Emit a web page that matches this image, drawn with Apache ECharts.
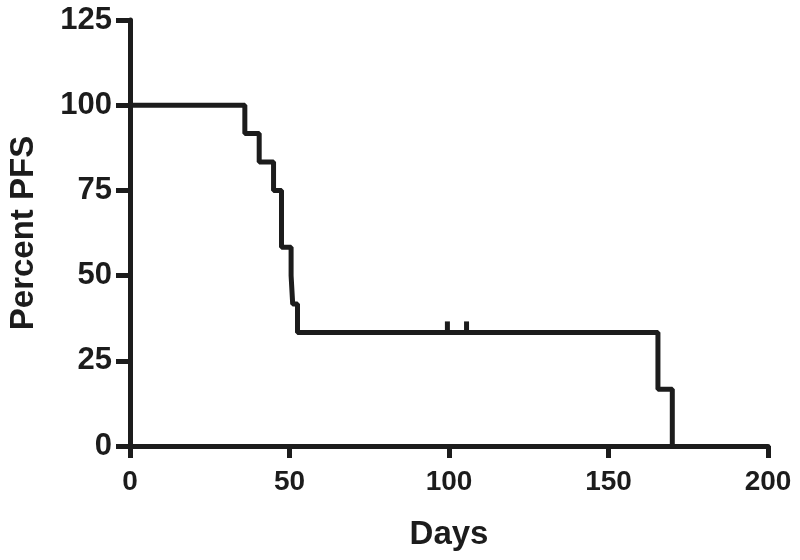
<!DOCTYPE html>
<html>
<head>
<meta charset="utf-8">
<script src="https://cdn.jsdelivr.net/npm/echarts@6/dist/echarts.min.js"></script>
<style>html,body{margin:0;padding:0;background:#fff;}#chart{width:800px;height:560px;}</style>
</head>
<body>
<div id="chart"></div>
<script>
// Kaplan-Meier step data (days, percent PFS)
var days = [0, 36, 40.5, 45, 47.5, 50.5, 51, 52.5, 165.5, 170];
var percentPFS = [100, 91.67, 83.33, 75, 58.33, 50, 41.67, 33.33, 16.67, 0];
// censored observations
var censorDays = [99.5, 105.5];
var censorPFS = [33.33, 33.33];
var xTicks = [0, 50, 100, 150, 200];
var yTicks = [0, 25, 50, 75, 100, 125];

var ink = '#1c1c1c';
var font = 'Liberation Sans, Arial, Helvetica, sans-serif';
var chart = echarts.init(document.getElementById('chart'));
var lineData = days.map(function (d, i) { return [d, percentPFS[i]]; });
var censorData = censorDays.map(function (d, i) { return [d, censorPFS[i]]; });

chart.setOption({
  animation: false,
  backgroundColor: '#ffffff',
  grid: { left: 130, right: 32, top: 20, bottom: 114, containLabel: false, outerBoundsMode: 'none' },
  xAxis: {
    type: 'value', min: xTicks[0], max: xTicks[xTicks.length - 1], interval: 50,
    name: 'Days', nameLocation: 'middle', nameGap: 72,
    nameTextStyle: { fontFamily: font, fontWeight: 'bold', fontSize: 33, color: ink },
    axisLine: { show: true, onZero: false, lineStyle: { color: ink, width: 5 } },
    axisTick: { show: true, inside: false, length: 12, lineStyle: { color: ink, width: 5 } },
    axisLabel: { margin: 22, fontFamily: font, fontWeight: 'bold', fontSize: 28, color: ink },
    splitLine: { show: false }
  },
  yAxis: {
    type: 'value', min: yTicks[0], max: yTicks[yTicks.length - 1], interval: 25,
    name: 'Percent PFS', nameLocation: 'middle', nameGap: 90, nameRotate: 90,
    nameTextStyle: { fontFamily: font, fontWeight: 'bold', fontSize: 33, color: ink },
    axisLine: { show: true, onZero: false, lineStyle: { color: ink, width: 5 } },
    axisTick: { show: true, inside: false, length: 14, lineStyle: { color: ink, width: 5 } },
    axisLabel: { margin: 18, fontFamily: font, fontWeight: 'bold', fontSize: 31, color: ink },
    splitLine: { show: false }
  },
  series: [
    {
      type: 'line', step: 'end', data: lineData, showSymbol: false, symbol: 'none',
      lineStyle: { color: ink, width: 5 }, z: 3
    },
    {
      type: 'scatter', data: censorData, symbol: 'rect', symbolSize: [5, 10], symbolOffset: [0, -6],
      itemStyle: { color: ink, opacity: 1 }, z: 4
    }
  ]
});
</script>
</body>
</html>
